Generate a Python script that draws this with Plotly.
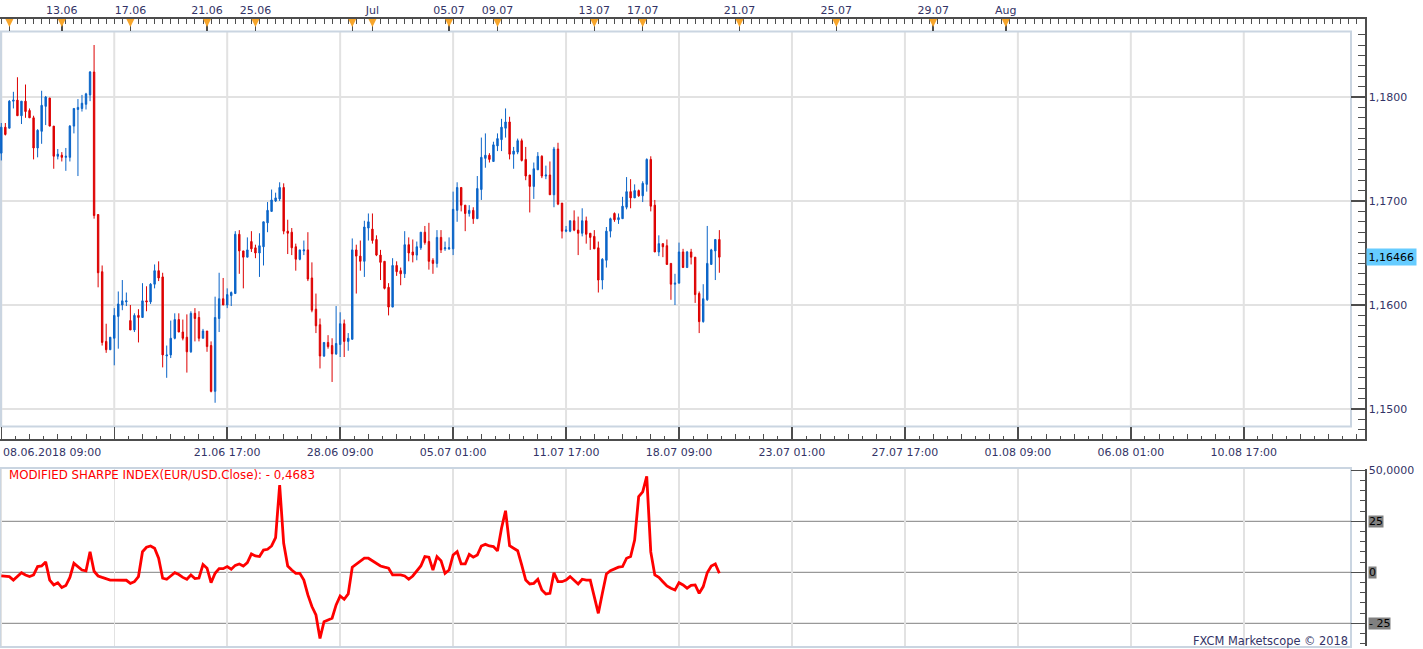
import plotly.graph_objects as go

# ---------------- data ----------------
opens = [1.1746, 1.1771, 1.1770, 1.1796, 1.1797, 1.1782, 1.1796, 1.1787, 1.1780, 1.1751,
         1.1767, 1.1791, 1.1799, 1.1772, 1.1743, 1.1744, 1.1742, 1.1742, 1.1772, 1.1788,
         1.1789, 1.1793, 1.1802, 1.1824, 1.1687, 1.1632, 1.1565, 1.1557, 1.1568, 1.1589,
         1.1600, 1.1603, 1.1585, 1.1576, 1.1590, 1.1588, 1.1604, 1.1603, 1.1620, 1.1633,
         1.1627, 1.1551, 1.1552, 1.1568, 1.1586, 1.1574, 1.1569, 1.1555, 1.1592, 1.1588,
         1.1568, 1.1575, 1.1561, 1.1517, 1.1587, 1.1606, 1.1600, 1.1609, 1.1611, 1.1668,
         1.1652, 1.1646, 1.1661, 1.1655, 1.1650, 1.1656, 1.1679, 1.1690, 1.1700, 1.1702,
         1.1713, 1.1671, 1.1670, 1.1656, 1.1644, 1.1652, 1.1653, 1.1626, 1.1596, 1.1581,
         1.1551, 1.1564, 1.1561, 1.1553, 1.1562, 1.1582, 1.1565, 1.1567, 1.1653, 1.1647,
         1.1642, 1.1674, 1.1673, 1.1663, 1.1648, 1.1642, 1.1617, 1.1598, 1.1638, 1.1633,
         1.1630, 1.1658, 1.1651, 1.1648, 1.1655, 1.1670, 1.1661, 1.1643, 1.1640, 1.1665,
         1.1654, 1.1654, 1.1654, 1.1691, 1.1713, 1.1696, 1.1688, 1.1691, 1.1683, 1.1711,
         1.1741, 1.1744, 1.1738, 1.1753, 1.1759, 1.1770, 1.1776, 1.1745, 1.1747, 1.1758,
         1.1740, 1.1725, 1.1714, 1.1730, 1.1743, 1.1724, 1.1725, 1.1706, 1.1750, 1.1698,
         1.1671, 1.1671, 1.1681, 1.1672, 1.1669, 1.1681, 1.1669, 1.1666, 1.1655, 1.1624,
         1.1643, 1.1671, 1.1688, 1.1682, 1.1683, 1.1694, 1.1709, 1.1703, 1.1710, 1.1705,
         1.1716, 1.1740, 1.1696, 1.1651, 1.1659, 1.1657, 1.1640, 1.1620, 1.1621, 1.1651,
         1.1636, 1.1651, 1.1646, 1.1611, 1.1584, 1.1605, 1.1639, 1.1652, 1.1663]
highs = [1.1775, 1.1775, 1.1797, 1.1805, 1.1819, 1.1796, 1.1812, 1.1789, 1.1782, 1.1769,
         1.1806, 1.1801, 1.1799, 1.1772, 1.1750, 1.1747, 1.1751, 1.1773, 1.1789, 1.1798,
         1.1802, 1.1804, 1.1825, 1.1850, 1.1687, 1.1638, 1.1582, 1.1569, 1.1597, 1.1613,
         1.1624, 1.1612, 1.1600, 1.1592, 1.1596, 1.1621, 1.1618, 1.1621, 1.1639, 1.1642,
         1.1631, 1.1561, 1.1585, 1.1592, 1.1592, 1.1586, 1.1591, 1.1594, 1.1597, 1.1594,
         1.1577, 1.1575, 1.1565, 1.1608, 1.1631, 1.1626, 1.1616, 1.1613, 1.1671, 1.1672,
         1.1652, 1.1665, 1.1671, 1.1658, 1.1669, 1.1680, 1.1699, 1.1711, 1.1708, 1.1718,
         1.1717, 1.1682, 1.1674, 1.1659, 1.1653, 1.1662, 1.1670, 1.1641, 1.1611, 1.1587,
         1.1564, 1.1571, 1.1568, 1.1599, 1.1593, 1.1586, 1.1573, 1.1664, 1.1658, 1.1662,
         1.1681, 1.1688, 1.1688, 1.1667, 1.1653, 1.1642, 1.1621, 1.1645, 1.1642, 1.1636,
         1.1671, 1.1665, 1.1663, 1.1661, 1.1670, 1.1676, 1.1679, 1.1645, 1.1672, 1.1672,
         1.1661, 1.1665, 1.1709, 1.1718, 1.1713, 1.1696, 1.1696, 1.1694, 1.1724, 1.1761,
         1.1765, 1.1746, 1.1757, 1.1765, 1.1779, 1.1789, 1.1781, 1.1752, 1.1760, 1.1760,
         1.1752, 1.1725, 1.1737, 1.1747, 1.1744, 1.1734, 1.1738, 1.1752, 1.1756, 1.1698,
         1.1676, 1.1681, 1.1691, 1.1685, 1.1693, 1.1685, 1.1669, 1.1672, 1.1661, 1.1645,
         1.1675, 1.1684, 1.1689, 1.1688, 1.1704, 1.1723, 1.1721, 1.1716, 1.1711, 1.1719,
         1.1741, 1.1743, 1.1701, 1.1667, 1.1659, 1.1663, 1.1640, 1.1630, 1.1660, 1.1654,
         1.1652, 1.1654, 1.1646, 1.1613, 1.1620, 1.1676, 1.1654, 1.1663, 1.1672]
lows = [1.1739, 1.1763, 1.1770, 1.1789, 1.1782, 1.1774, 1.1780, 1.1780, 1.1740, 1.1742,
        1.1755, 1.1773, 1.1772, 1.1731, 1.1740, 1.1738, 1.1729, 1.1738, 1.1765, 1.1724,
        1.1786, 1.1788, 1.1796, 1.1683, 1.1617, 1.1561, 1.1554, 1.1557, 1.1542, 1.1558,
        1.1595, 1.1599, 1.1576, 1.1574, 1.1564, 1.1588, 1.1594, 1.1601, 1.1616, 1.1623,
        1.1540, 1.1530, 1.1549, 1.1567, 1.1574, 1.1566, 1.1535, 1.1554, 1.1565, 1.1565,
        1.1568, 1.1555, 1.1516, 1.1506, 1.1574, 1.1600, 1.1597, 1.1599, 1.1611, 1.1630,
        1.1616, 1.1646, 1.1651, 1.1645, 1.1627, 1.1638, 1.1670, 1.1690, 1.1699, 1.1700,
        1.1668, 1.1649, 1.1648, 1.1633, 1.1643, 1.1648, 1.1623, 1.1593, 1.1573, 1.1539,
        1.1550, 1.1558, 1.1526, 1.1552, 1.1550, 1.1550, 1.1556, 1.1567, 1.1611, 1.1633,
        1.1627, 1.1662, 1.1659, 1.1647, 1.1624, 1.1615, 1.1590, 1.1598, 1.1628, 1.1619,
        1.1626, 1.1642, 1.1641, 1.1643, 1.1653, 1.1658, 1.1634, 1.1630, 1.1636, 1.1650,
        1.1652, 1.1653, 1.1648, 1.1680, 1.1690, 1.1671, 1.1685, 1.1678, 1.1683, 1.1701,
        1.1732, 1.1737, 1.1738, 1.1748, 1.1748, 1.1761, 1.1740, 1.1731, 1.1745, 1.1738,
        1.1720, 1.1689, 1.1702, 1.1730, 1.1722, 1.1721, 1.1706, 1.1694, 1.1696, 1.1664,
        1.1670, 1.1670, 1.1671, 1.1648, 1.1666, 1.1659, 1.1653, 1.1654, 1.1612, 1.1615,
        1.1636, 1.1665, 1.1680, 1.1678, 1.1683, 1.1692, 1.1693, 1.1703, 1.1704, 1.1699,
        1.1709, 1.1690, 1.1651, 1.1647, 1.1646, 1.1639, 1.1605, 1.1600, 1.1621, 1.1636,
        1.1636, 1.1639, 1.1602, 1.1573, 1.1583, 1.1604, 1.1639, 1.1624, 1.1631]
closes = [1.1771, 1.1764, 1.1796, 1.1797, 1.1782, 1.1796, 1.1786, 1.1780, 1.1751, 1.1768,
          1.1792, 1.1800, 1.1772, 1.1743, 1.1745, 1.1742, 1.1743, 1.1772, 1.1789, 1.1790,
          1.1794, 1.1803, 1.1824, 1.1686, 1.1631, 1.1564, 1.1557, 1.1569, 1.1590, 1.1601,
          1.1604, 1.1604, 1.1576, 1.1590, 1.1588, 1.1604, 1.1603, 1.1620, 1.1633, 1.1626,
          1.1552, 1.1552, 1.1568, 1.1586, 1.1574, 1.1568, 1.1555, 1.1592, 1.1587, 1.1568,
          1.1575, 1.1560, 1.1517, 1.1588, 1.1606, 1.1600, 1.1610, 1.1612, 1.1668, 1.1652,
          1.1646, 1.1653, 1.1654, 1.1650, 1.1657, 1.1680, 1.1691, 1.1701, 1.1703, 1.1713,
          1.1671, 1.1669, 1.1655, 1.1644, 1.1653, 1.1653, 1.1625, 1.1595, 1.1580, 1.1551,
          1.1564, 1.1560, 1.1553, 1.1563, 1.1582, 1.1565, 1.1568, 1.1653, 1.1647, 1.1642,
          1.1675, 1.1680, 1.1662, 1.1648, 1.1641, 1.1616, 1.1598, 1.1638, 1.1632, 1.1630,
          1.1658, 1.1650, 1.1648, 1.1656, 1.1670, 1.1660, 1.1642, 1.1640, 1.1665, 1.1653,
          1.1655, 1.1655, 1.1692, 1.1713, 1.1696, 1.1688, 1.1691, 1.1683, 1.1712, 1.1742,
          1.1744, 1.1740, 1.1754, 1.1760, 1.1771, 1.1776, 1.1745, 1.1748, 1.1758, 1.1739,
          1.1724, 1.1714, 1.1731, 1.1743, 1.1724, 1.1725, 1.1706, 1.1750, 1.1697, 1.1671,
          1.1672, 1.1681, 1.1672, 1.1669, 1.1681, 1.1668, 1.1665, 1.1654, 1.1624, 1.1644,
          1.1671, 1.1683, 1.1682, 1.1684, 1.1695, 1.1709, 1.1703, 1.1710, 1.1705, 1.1717,
          1.1740, 1.1695, 1.1651, 1.1659, 1.1656, 1.1639, 1.1620, 1.1621, 1.1651, 1.1636,
          1.1651, 1.1646, 1.1610, 1.1584, 1.1606, 1.1640, 1.1653, 1.1663, 1.1646]
msi = [-1.8, -2.1, -2.1, -3.8, -2.1, -0.2, -1.3, -2.1, -1.3, 2.8,
       3.1, 5.1, -3.8, -6.2, -5.1, -7.5, -6.5, -2.5, 4.4, 2.8,
       1.1, 0.7, 10.1, 0.5, -1.8, -2.5, -3.1, -3.8, -3.8, -3.8,
       -3.8, -3.9, -5.4, -4.6, -2.1, 10.1, 12.3, 12.9, 11.8, 6.9,
       -2.9, -3.4, -1.8, -0.2, -1.1, -2.5, -3.4, -1.3, -3.1, -2.8,
       3.8, 2.0, -5.1, -0.5, 1.8, 1.8, 2.8, 1.5, 3.4, 4.1,
       3.1, 4.7, 9.0, 8.0, 7.7, 10.9, 11.3, 12.9, 17.0, 42.8,
       14.2, 3.1, 1.1, -0.5, -0.5, -3.8, -11.1, -16.8, -20.9, -32.4,
       -24.2, -23.4, -22.5, -16.0, -11.6, -13.2, -10.6, 2.5, 4.1, 5.7,
       6.9, 6.9, 5.7, 4.4, 3.1, 2.5, 2.0, -1.3, -1.3, -1.3,
       -1.8, -3.4, -1.8, 0.7, 3.1, 7.7, 7.4, 1.1, 7.7, 5.7,
       -0.5, 1.1, 8.5, 10.1, 4.1, 4.1, 8.8, 7.4, 8.5, 12.9,
       13.7, 12.9, 12.6, 10.5, 21.6, 30.2, 13.0, 11.8, 10.6, 3.6,
       -3.8, -5.7, -5.4, -3.4, -8.7, -10.6, -10.3, -0.2, -4.6, -4.6,
       -3.8, -2.1, -4.1, -5.7, -3.4, -3.8, -3.8, -11.9, -20.1, -10.3,
       -0.8, 0.8, 1.8, 2.5, 2.8, 6.9, 7.7, 15.8, 37.1, 39.4,
       47.0, 10.0, -1.3, -2.5, -4.6, -6.7, -7.8, -8.7, -5.1, -6.2,
       -7.8, -6.4, -6.2, -10.3, -7.0, -0.2, 3.1, 4.1, -0.47]
bar_index = list(range(len(closes)))

grid_bars = [0, 28, 56, 84, 112, 140, 168, 196, 224, 252, 280, 308]
grid_labels = ["", "", "21.06 17:00", "28.06 09:00", "05.07 01:00", "11.07 17:00",
               "18.07 09:00", "23.07 01:00", "27.07 17:00", "01.08 09:00",
               "06.08 01:00", "10.08 17:00"]
first_label = "08.06.2018 09:00"
event_bars = [2, 15, 32, 51, 63, 87, 92, 111, 123, 147, 159, 183, 207, 231, 249]
event_labels = ["", "13.06", "17.06", "21.06", "25.06", "", "Jul", "05.07", "09.07",
                "13.07", "17.07", "21.07", "25.07", "29.07", "Aug"]
price_ticks = [1.15, 1.16, 1.17, 1.18]
price_tick_labels = ["1,1500", "1,1600", "1,1700", "1,1800"]
last_price = 1.16466
msi_ticks = [50, 25, 0, -25]
msi_levels = [25, 0, -25]
msi_level_labels = ["25", "0", "- 25"]
msi_last = -0.4683

# ---------------- geometry / style ----------------
W, H = 1423, 649
AXIS_X = 1365      # right axis line (px)
FRAME_R = 1351     # right frame (px)
STRIP_TOP = 18.5
MAIN_TOP, MAIN_BOT, FRAME_BOT = 32, 439, 427
LOW_TOP, LOW_BOT = 469, 646
X0_PX, PX_PER_BAR = 1.3, 4.034
P_REF, P_REF_PX, PX_PER_PRICE = 1.18, 97.0, 10400.0
M_ZERO_PX, PX_PER_M = 572.3, 2.04
TRI_TOP_PX, TRI_BOT_PX, TRI_HALF_PX = 19.0, 27.0, 4.0

FONT = "DejaVu Sans"
TXT = "#333366"
AX = "#4d4d4d"
GRID = "#e2e2e2"
FRAME = "#cad5e1"
UP, DOWN = "#0a64c8", "#dd0000"
ORANGE = "#f7a52a"


def fx(p):
    return p / W


def fy(p):
    return 1 - p / H


x_range = [(0 - X0_PX) / PX_PER_BAR, (AXIS_X - X0_PX) / PX_PER_BAR]
y_range = [P_REF - (MAIN_BOT - P_REF_PX) / PX_PER_PRICE, P_REF + (P_REF_PX - MAIN_TOP) / PX_PER_PRICE]
y3_range = [-(LOW_BOT - M_ZERO_PX) / PX_PER_M, (M_ZERO_PX - LOW_TOP) / PX_PER_M]
strip_h = MAIN_TOP - STRIP_TOP

fig = go.Figure()

fig.add_trace(go.Candlestick(
    x=bar_index, open=opens, high=highs, low=lows, close=closes,
    increasing=dict(line=dict(color=UP, width=1), fillcolor=UP),
    decreasing=dict(line=dict(color=DOWN, width=1), fillcolor=DOWN),
    whiskerwidth=0, xaxis="x", yaxis="y", showlegend=False, hoverinfo="skip"))

fig.add_trace(go.Scatter(
    x=bar_index, y=msi, mode="lines", line=dict(color="#ff0000", width=2.8),
    xaxis="x3", yaxis="y3", showlegend=False, hoverinfo="skip"))

fig.add_trace(go.Scatter(x=[], y=[], xaxis="x2", yaxis="y2", showlegend=False))
fig.add_trace(go.Scatter(x=[], y=[], xaxis="x4", yaxis="y", showlegend=False))

tickfont = dict(family=FONT, size=11, color=TXT)
xdom = [0, fx(AXIS_X)]

shapes = []
for b in grid_bars:
    shapes.append(dict(type="line", xref="x", yref="paper", x0=b, x1=b,
                       y0=fy(FRAME_BOT), y1=fy(MAIN_TOP), line=dict(color=GRID, width=2), layer="below"))
for p in price_ticks:
    shapes.append(dict(type="line", xref="paper", yref="y", x0=fx(1.5), x1=fx(FRAME_R),
                       y0=p, y1=p, line=dict(color=GRID, width=2), layer="below"))
shapes.append(dict(type="rect", xref="paper", yref="paper", x0=fx(1), x1=fx(FRAME_R),
                   y0=fy(FRAME_BOT - 0.5), y1=fy(MAIN_TOP - 0.5), line=dict(color=FRAME, width=2), layer="below"))
shapes.append(dict(type="rect", xref="paper", yref="paper", x0=fx(1), x1=fx(FRAME_R),
                   y0=fy(647), y1=fy(468), line=dict(color=FRAME, width=2), layer="below"))
for lv in msi_levels:
    shapes.append(dict(type="line", xref="paper", yref="y3", x0=fx(1), x1=fx(FRAME_R),
                       y0=lv, y1=lv, line=dict(color="#808080", width=1), layer="below"))
# event triangles in the calendar strip
hw = TRI_HALF_PX / PX_PER_BAR
yt = (MAIN_TOP - TRI_TOP_PX) / strip_h
yb = (MAIN_TOP - TRI_BOT_PX) / strip_h
for b in event_bars:
    shapes.append(dict(type="path", xref="x2", yref="y2",
                       path=f"M {b - hw},{yt} L {b + hw},{yt} L {b},{yb} Z",
                       fillcolor=ORANGE, line=dict(width=0), layer="above"))

annotations = [
    dict(text=first_label, xref="paper", yref="paper", x=fx(1), y=fy(452.5),
         xanchor="left", yanchor="middle", showarrow=False, font=tickfont),
    dict(text=f"{last_price:.5f}".replace(".", ","), xref="paper", yref="y", x=fx(AXIS_X + 1),
         y=last_price, xanchor="left", yanchor="middle", showarrow=False,
         bgcolor="#66ccff", borderpad=1.5, font=dict(family=FONT, size=11, color="black")),
    dict(text="MODIFIED SHARPE INDEX(EUR/USD.Close): - " + f"{abs(msi_last):.4f}".replace(".", ","),
         xref="paper", yref="paper", x=fx(6.5), y=fy(475), xanchor="left", yanchor="middle",
         showarrow=False, font=dict(family=FONT, size=11.8, color="#ff0000")),
    dict(text="FXCM Marketscope \u00a9 2018", xref="paper", yref="paper", x=fx(1350), y=fy(641),
         xanchor="right", yanchor="middle", showarrow=False,
         font=dict(family=FONT, size=11.4, color=TXT)),
]
for lv, lab in zip(msi_levels, msi_level_labels):
    annotations.append(dict(text=lab, xref="paper", yref="y3", x=fx(AXIS_X + 3), y=lv,
                            xanchor="left", yanchor="middle", showarrow=False,
                            bgcolor="#808080", borderpad=0, height=11,
                            font=dict(family=FONT, size=11, color="black")))

fig.update_layout(
    width=W, height=H, autosize=False,
    margin=dict(l=0, r=0, t=0, b=0, pad=0),
    paper_bgcolor="white", plot_bgcolor="rgba(0,0,0,0)",
    showlegend=False, hovermode=False, boxgap=0.5,
    font=dict(family=FONT, size=11, color=TXT),
    xaxis=dict(domain=xdom, anchor="y", range=x_range, showgrid=False, zeroline=False,
               showline=True, linecolor=AX, linewidth=1.5, ticks="inside", ticklen=12,
               tickwidth=1.5, tickcolor=AX, tickmode="array", tickvals=grid_bars,
               ticktext=grid_labels, tickfont=tickfont, ticklabelstandoff=2,
               minor=dict(ticks="inside", ticklen=5, tickmode="linear", tick0=0, dtick=7,
                          tickcolor=AX, tickwidth=1, showgrid=False),
               rangeslider=dict(visible=False), fixedrange=True, automargin=False),
    xaxis4=dict(overlaying="x", anchor="y", side="bottom", matches="x", showgrid=False,
                zeroline=False, showline=False, ticks="inside", ticklen=3, tickcolor=AX,
                tickwidth=1, tickmode="linear", tick0=3.5, dtick=7, showticklabels=False,
                automargin=False),
    yaxis=dict(domain=[fy(MAIN_BOT), fy(MAIN_TOP)], anchor="x", side="right", range=y_range,
               autorange=False, showgrid=False, zeroline=False, showline=True, linecolor=AX,
               linewidth=1.5, ticks="inside", ticklen=14, tickwidth=1.5, tickcolor=AX,
               tickmode="array", tickvals=price_ticks, ticktext=price_tick_labels, tickfont=tickfont,
               minor=dict(ticks="inside", ticklen=7, tickmode="linear", tick0=1.15, dtick=0.001,
                          tickcolor=AX, tickwidth=1, showgrid=False),
               fixedrange=True, automargin=False),
    xaxis2=dict(domain=xdom, anchor="y2", side="top", matches="x", showgrid=False, zeroline=False,
                showline=True, linecolor=AX, linewidth=1.5, ticks="inside", ticklen=12,
                tickwidth=1.5, tickcolor=AX, tickmode="array", tickvals=event_bars,
                ticktext=event_labels, tickfont=tickfont, ticklabelstandoff=-1,
                minor=dict(ticks="inside", ticklen=5, tickmode="linear", tick0=0, dtick=2,
                           tickcolor=AX, tickwidth=1, showgrid=False), automargin=False),
    yaxis2=dict(domain=[fy(MAIN_TOP), fy(STRIP_TOP)], anchor="x2", side="right", range=[0, 1],
                showgrid=False, zeroline=False, showline=True, linecolor=AX, linewidth=1.5,
                ticks="", showticklabels=False, automargin=False),
    xaxis3=dict(domain=xdom, anchor="y3", matches="x", showgrid=True, gridcolor=GRID, gridwidth=1.5,
                zeroline=False, showline=False, ticks="", showticklabels=False,
                tickmode="array", tickvals=grid_bars, automargin=False),
    yaxis3=dict(domain=[fy(LOW_BOT), fy(LOW_TOP)], anchor="x3", side="right", range=y3_range,
                showgrid=False, zeroline=False, showline=True, linecolor=AX, linewidth=1.5,
                ticks="inside", ticklen=14, tickwidth=1.5, tickcolor=AX, tickmode="array",
                tickvals=msi_ticks, ticktext=["50,0000", "", "", ""], tickfont=tickfont,
                minor=dict(ticks="inside", ticklen=5, tickmode="linear", tick0=0, dtick=5,
                           tickcolor=AX, tickwidth=1, showgrid=False),
                fixedrange=True, automargin=False),
    shapes=shapes,
    annotations=annotations,
)

fig.write_html("out.html", config=dict(displayModeBar=False, staticPlot=True))
